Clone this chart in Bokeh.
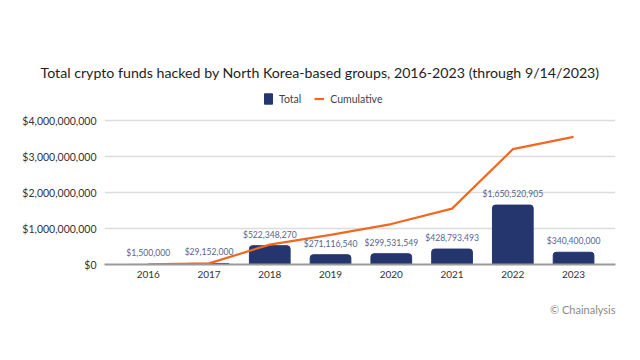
from bokeh.plotting import figure
from bokeh.models import (Range1d, FixedTicker, NumeralTickFormatter, Legend, LegendItem,
                          Title, ColumnDataSource)
from bokeh.core.properties import value
from bokeh.embed import file_html
from bokeh.resources import INLINE

years = ["2016", "2017", "2018", "2019", "2020", "2021", "2022", "2023"]
totals = [1500000, 29152000, 522348270, 271116540, 299531549, 428793493, 1650520905, 340400000]
cumulative = [1500000, 30652000, 553000270, 824116810, 1123648359, 1552441852, 3202962757, 3543362757]
y_ticks = [0, 1000000000, 2000000000, 3000000000, 4000000000]

FONT = "Lato"
xs = list(range(len(years)))
src = ColumnDataSource(dict(
    x=xs, total=totals, cum=cumulative,
    lbl=["${:,}".format(v) for v in totals],
))

# frame spans 178 px vertically; $4B gridline sits 34 px below its top
y_end = y_ticks[-1] * 178 / 144

p = figure(width=624, height=344, output_backend="svg", toolbar_location=None,
           x_range=Range1d(-0.72, 7.69), y_range=Range1d(0, y_end),
           min_border_left=104, min_border_right=9, min_border_top=86, min_border_bottom=80)
p.outline_line_color = None
p.background_fill_color = "white"
p.border_fill_color = "white"

p.title.text = "Total crypto funds hacked by North Korea-based groups, 2016-2023 (through 9/14/2023)"
p.title.align = "left"
p.title.offset = -64
p.title.text_font = FONT
p.title.text_font_size = "14.2px"
p.title.text_font_style = "normal"
p.title.text_color = "#1e1e1e"
p.title.standoff = 11

bars = p.vbar(x="x", top="total", width=0.67, source=src, color="#25366f",
              border_radius=(3, 3, 0, 0))
line = p.line(x="x", y="cum", source=src, line_color="#f26722", line_width=2.2)
p.text(x="x", y="total", text="lbl", source=src, text_align="center", text_baseline="bottom",
       y_offset=-6, text_font=value(FONT), text_font_size="8.6px", text_color="#56638f")

p.xgrid.grid_line_color = None
p.ygrid.grid_line_color = "#dcdcdc"
p.ygrid.grid_line_width = 1.5

p.yaxis.ticker = FixedTicker(ticks=y_ticks)
p.yaxis.formatter = NumeralTickFormatter(format="$0,0")
p.yaxis.axis_line_color = None
p.yaxis.major_tick_line_color = None
p.yaxis.minor_tick_line_color = None
p.yaxis.major_label_standoff = 2
p.yaxis.major_label_text_font = FONT
p.yaxis.major_label_text_font_size = "10.5px"
p.yaxis.major_label_text_color = "#333333"

p.xaxis.ticker = FixedTicker(ticks=xs)
p.xaxis.major_label_overrides = {i: y for i, y in enumerate(years)}
p.xaxis.axis_line_color = "#9a9a9a"
p.xaxis.axis_line_width = 2
p.xaxis.major_tick_line_color = None
p.xaxis.minor_tick_line_color = None
p.xaxis.major_label_standoff = 0
p.xaxis.major_label_text_font = FONT
p.xaxis.major_label_text_font_size = "10px"
p.xaxis.major_label_text_color = "#333333"

legend = Legend(items=[LegendItem(label="Total", renderers=[bars]),
                       LegendItem(label="Cumulative", renderers=[line])],
                orientation="horizontal", location=(159, 159),
                label_text_font=FONT, label_text_font_size="10.5px", label_text_color="#444444",
                glyph_width=10, glyph_height=13, spacing=13, label_standoff=6,
                label_height=13, border_line_color=None, background_fill_alpha=0,
                padding=0, margin=0)
p.add_layout(legend, "center")

cr = Title(text="\u00a9 Chainalysis", align="right", text_font=FONT, text_font_size="11px",
           text_font_style="normal", text_color="#8a8a8a", standoff=40)
p.add_layout(cr, "below")

open("out.html", "w").write(file_html(p, INLINE))
